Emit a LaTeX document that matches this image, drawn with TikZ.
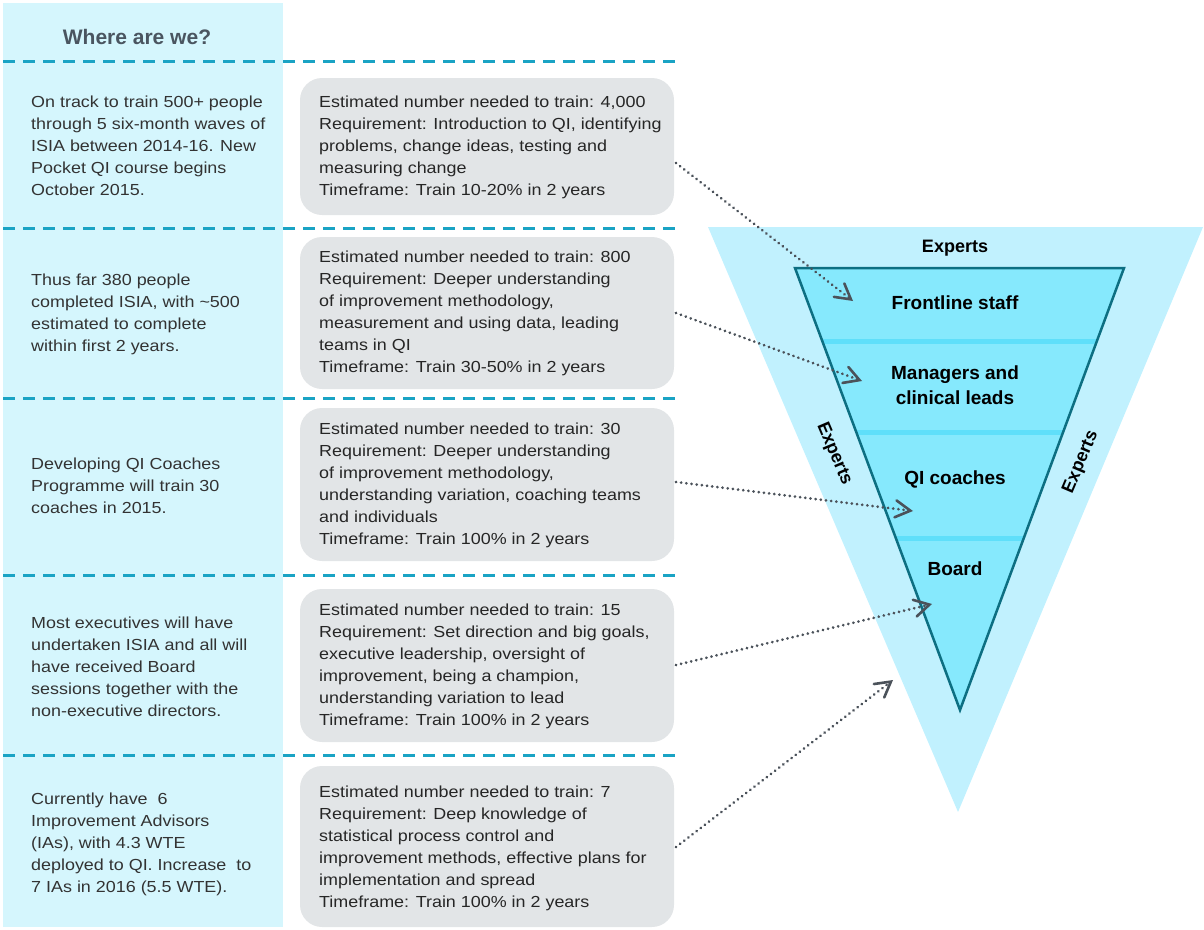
\documentclass[tikz,border=0pt]{standalone}
\usepackage{fontspec}
\setmainfont{Liberation Sans}
\newfontfamily\bodyfont{Liberation Sans}[FakeStretch=1.12]
\usetikzlibrary{arrows.meta}
\definecolor{panel}{HTML}{D5F6FD}
\definecolor{dashc}{HTML}{1AA3C4}
\definecolor{boxg}{HTML}{E2E5E7}
\definecolor{outerf}{HTML}{C1F1FE}
\definecolor{innerf}{HTML}{86E9FD}
\definecolor{stripe}{HTML}{5FDFFA}
\definecolor{edge}{HTML}{0D6F82}
\definecolor{arrc}{HTML}{4B525A}
\definecolor{headc}{HTML}{4A5560}
\definecolor{txtc}{HTML}{333333}
\tikzset{
  sep/.style={dashc, line width=3pt, dash pattern=on 12pt off 8pt},
  greybox/.style={fill=boxg, rounded corners=22pt, minimum width=374pt, inner sep=0pt, draw=none},
  lefttext/.style={anchor=west, align=left, inner sep=0pt, text=txtc, font=\bodyfont\fontsize{16}{22}\selectfont},
  boxtext/.style={anchor=west, align=left, inner sep=0pt, text=black!85, font=\bodyfont\fontsize{16}{22}\selectfont},
  level/.style={align=center, inner sep=0pt, font=\fontsize{19}{25}\selectfont\bfseries},
  expert/.style={inner sep=0pt, font=\fontsize{18}{22}\selectfont\bfseries},
  link/.style={arrc, line width=3pt, dash pattern=on 0.01pt off 5.2pt, line cap=round, -{Straight Barb[length=15pt,width=17pt,line width=2.6pt,line cap=round]}}
}
\begin{document}
\begin{tikzpicture}[x=1pt,y=-1pt]
\useasboundingbox (0,0) rectangle (1204,929);
% left panel
\fill[panel] (3,3) rectangle (283,927);
\node[font=\fontsize{21}{25}\selectfont\bfseries, text=headc, inner sep=0pt] (title) at (137,37) {Where are we?};
% separators
\foreach \yy in {61,228,398,575,755} \draw[sep] (3,\yy) -- (676,\yy);
% grey boxes
\node[greybox, minimum height=137pt] (b1) at (487,146.5) {};
\node[greybox, minimum height=152pt] (b2) at (487,313) {};
\node[greybox, minimum height=153pt] (b3) at (487,484.5) {};
\node[greybox, minimum height=153pt] (b4) at (487,665.5) {};
\node[greybox, minimum height=161pt] (b5) at (487,846.5) {};
% left texts
\node[lefttext] (l1) at (31,146) {On track to train 500+ people\\through 5 six-month waves of\\ISIA between 2014-16. New\\Pocket QI course begins\\October 2015.};
\node[lefttext] (l2) at (31,314) {Thus far 380 people\\completed ISIA, with \textasciitilde500\\estimated to complete\\within first 2 years.};
\node[lefttext] (l3) at (31,485.5) {Developing QI Coaches\\Programme will train 30\\coaches in 2015.};
\node[lefttext] (l4) at (31,667) {Most executives will have\\undertaken ISIA and all will\\have received Board\\sessions together with the\\non-executive directors.};
\node[lefttext] (l5) at (31,844) {Currently have\ \ 6\\Improvement Advisors\\(IAs), with 4.3 WTE\\deployed to QI. Increase\ \ to\\7 IAs in 2016 (5.5 WTE).};
% box texts
\node[boxtext] (t1) at (319,147) {Estimated number needed to train: 4,000\\Requirement: Introduction to QI, identifying\\problems, change ideas, testing and\\measuring change\\Timeframe: Train 10-20\% in 2 years};
\node[boxtext] (t2) at (319,313.5) {Estimated number needed to train: 800\\Requirement: Deeper understanding\\of improvement methodology,\\measurement and using data, leading\\teams in QI\\Timeframe: Train 30-50\% in 2 years};
\node[boxtext] (t3) at (319,485.5) {Estimated number needed to train: 30\\Requirement: Deeper understanding\\of improvement methodology,\\understanding variation, coaching teams\\and individuals\\Timeframe: Train 100\% in 2 years};
\node[boxtext] (t4) at (319,666) {Estimated number needed to train: 15\\Requirement: Set direction and big goals,\\executive leadership, oversight of\\improvement, being a champion,\\understanding variation to lead\\Timeframe: Train 100\% in 2 years};
\node[boxtext] (t5) at (319,848) {Estimated number needed to train: 7\\Requirement: Deep knowledge of\\statistical process control and\\improvement methods, effective plans for\\implementation and spread\\Timeframe: Train 100\% in 2 years};
% funnel
\fill[outerf] (708,227) -- (1203,227) -- (958,812) -- cycle;
\fill[innerf] (795,268) -- (1124,268) -- (960,710) -- cycle;
\begin{scope}
\clip (795,268) -- (1124,268) -- (960,710) -- cycle;
\foreach \yy in {341,432,538} \fill[stripe] (780,\yy-2.5) rectangle (1140,\yy+2.5);
\end{scope}
\draw[edge, line width=2.5pt, line join=miter] (795,268) -- (1124,268) -- (960,710) -- cycle;
\node[expert] (etop) at (955,248) {Experts};
\node[expert, rotate=-67] (eleft) at (834,454) {Experts};
\node[expert, rotate=67] (eright) at (1081,462) {Experts};
\node[level] (front) at (955,303) {Frontline staff};
\node[level] (mgr) at (955,385.5) {Managers and\\clinical leads};
\node[level] (coach) at (955,479) {QI coaches};
\node[level] (board) at (955,569) {Board};
% connectors
\coordinate (s1) at (676,163); \coordinate (e1) at (853,301);
\coordinate (s2) at (676,313); \coordinate (e2) at (862,381);
\coordinate (s3) at (676,482); \coordinate (e3) at (913,511);
\coordinate (s4) at (676,665); \coordinate (e4) at (932,604);
\coordinate (s5) at (676,847); \coordinate (e5) at (893,680);
\foreach \i in {1,...,5} \draw[link] (s\i) -- (e\i);
\end{tikzpicture}
\end{document}
